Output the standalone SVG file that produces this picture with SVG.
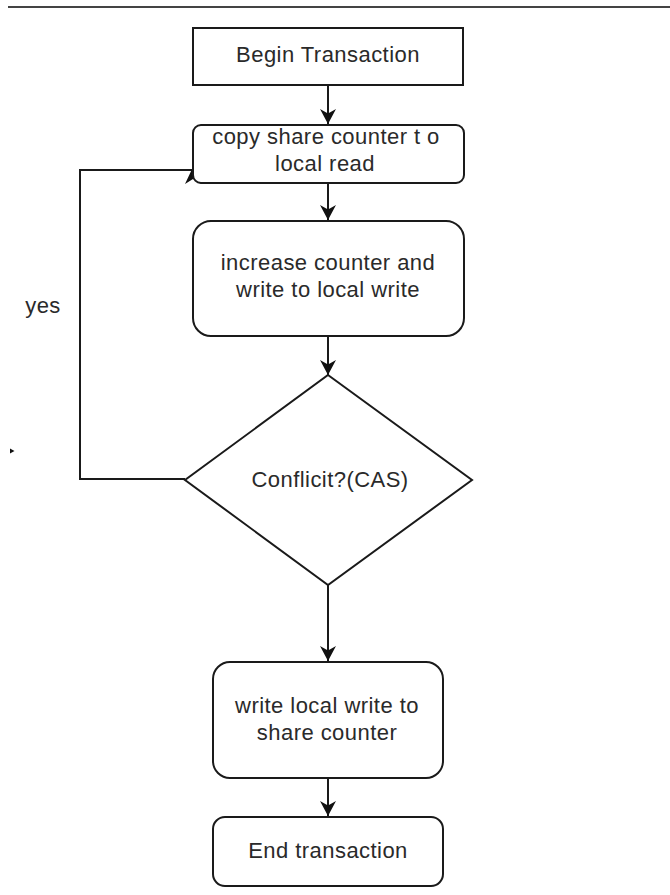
<svg xmlns="http://www.w3.org/2000/svg" width="670" height="895" viewBox="0 0 670 895">
  <style>
    .box { fill: #ffffff; stroke: #1a1a1a; stroke-width: 2; }
    .edge { fill: none; stroke: #1a1a1a; stroke-width: 2; }
    .head { fill: #111111; stroke: none; }
    .label { font-family: "Liberation Sans", Arial, Helvetica, sans-serif; font-size: 22px; letter-spacing: 0.45px; fill: #2a2a2a; text-anchor: middle; }
  </style>
  <defs>
    <marker id="arrow" markerUnits="userSpaceOnUse" viewBox="0 0 15 16" refX="15" refY="8" markerWidth="15" markerHeight="16" orient="auto">
      <path class="head" d="M0,0 L15,8 L0,16 L4.5,8 Z"/>
    </marker>
  </defs>

  <rect width="670" height="895" fill="#ffffff"/>

  <!-- header rule -->
  <line x1="8" y1="7" x2="670" y2="7" stroke="#444444" stroke-width="2"/>

  <!-- connectors -->
  <g id="connectors">
    <line class="edge" x1="328" y1="86" x2="328" y2="124" marker-end="url(#arrow)"/>
    <line class="edge" x1="328" y1="183" x2="328" y2="220" marker-end="url(#arrow)"/>
    <line class="edge" x1="328" y1="336" x2="328" y2="375" marker-end="url(#arrow)"/>
    <line class="edge" x1="328" y1="585" x2="328" y2="661" marker-end="url(#arrow)"/>
    <line class="edge" x1="328" y1="778" x2="328" y2="816" marker-end="url(#arrow)"/>
    <!-- retry loop back to the copy step -->
    <path class="edge" d="M185,479 H80 V170 H193"/>
    <path class="head" d="M193,167 L201,184 L193,179 L185,184 Z"/>
    <text class="label" x="43" y="313">yes</text>
    <path class="head" d="M10,448.5 L14.5,451 L10,453.5 Z"/>
  </g>

  <g id="begin">
    <rect class="box" x="193" y="28" width="270" height="57"/>
    <text class="label" x="328" y="62">Begin Transaction</text>
  </g>

  <g id="copy">
    <rect class="box" x="193" y="125" width="271" height="58" rx="8"/>
    <text class="label" x="326" y="144">copy share counter t o</text>
    <text class="label" x="325" y="171">local read</text>
  </g>

  <g id="increase">
    <rect class="box" x="193" y="221" width="271" height="115" rx="18"/>
    <text class="label" x="328" y="270">increase counter and</text>
    <text class="label" x="328" y="297">write to local write</text>
  </g>

  <g id="conflict">
    <polygon class="box" points="328,375 472,480 328,585 185,480"/>
    <text class="label" x="330" y="487">Conflicit?(CAS)</text>
  </g>

  <g id="writeback">
    <rect class="box" x="213" y="662" width="230" height="116" rx="17"/>
    <text class="label" x="327" y="713">write local write to</text>
    <text class="label" x="327" y="740">share counter</text>
  </g>

  <g id="end">
    <rect class="box" x="213" y="817" width="230" height="69" rx="12"/>
    <text class="label" x="328" y="858">End transaction</text>
  </g>
</svg>
